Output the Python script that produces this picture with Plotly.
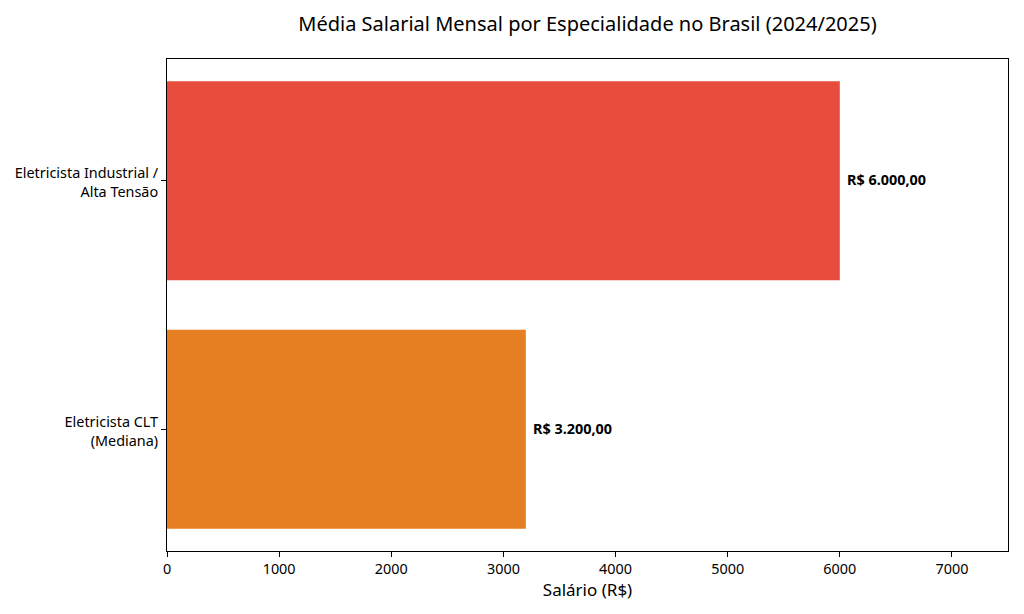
import plotly.graph_objects as go

categories = ["Eletricista CLT<br>(Mediana)", "Eletricista Industrial /<br>Alta Tensão"]
salaries = [3200, 6000]
colors = ["#E67E22", "#E74C3C"]
labels = ["R$ 3.200,00", "R$ 6.000,00"]
xticks = [0, 1000, 2000, 3000, 4000, 5000, 6000, 7000]

positions = list(range(len(categories)))

fig = go.Figure()
fig.add_trace(go.Bar(
    x=salaries, y=positions, orientation="h", width=0.8,
    marker=dict(color=colors, line=dict(width=0)),
    hoverinfo="skip", showlegend=False,
))
for p, v, t in zip(positions, salaries, labels):
    fig.add_annotation(x=v, y=p, text="<b>" + t + "</b>", showarrow=False,
                       xanchor="left", yanchor="middle", xshift=5, yshift=1,
                       font=dict(family="Noto Sans", size=14.4, color="black"))

fig.update_layout(
    width=1024, height=614,
    margin=dict(l=167, r=16, t=59, b=63),
    paper_bgcolor="white", plot_bgcolor="white",
    font=dict(family="Noto Sans", color="black"),
    title=dict(text="Média Salarial Mensal por Especialidade no Brasil (2024/2025)",
               x=0.5, xref="paper", y=1 - 24 / 614, yref="container",
               xanchor="center", yanchor="middle",
               font=dict(family="Noto Sans", size=20, color="black")),
    xaxis=dict(range=[0, 7500], tickvals=xticks, ticks="outside", ticklen=5,
               tickcolor="black", showgrid=False, zeroline=False,
               showline=True, linecolor="black", linewidth=1, mirror=True,
               tickfont=dict(size=14.4, color="black"),
               title=dict(text="Salário (R$)", font=dict(size=17, color="black"), standoff=4)),
    yaxis=dict(range=[-0.49, 1.49], tickvals=positions, ticktext=categories,
               ticks="outside", ticklen=5, tickcolor="black", showgrid=False,
               zeroline=False, showline=True, linecolor="black", linewidth=1,
               mirror=True, tickfont=dict(size=14.4, color="black"),
               ticklabelshift=2),
)

fig.write_html("out.html")
